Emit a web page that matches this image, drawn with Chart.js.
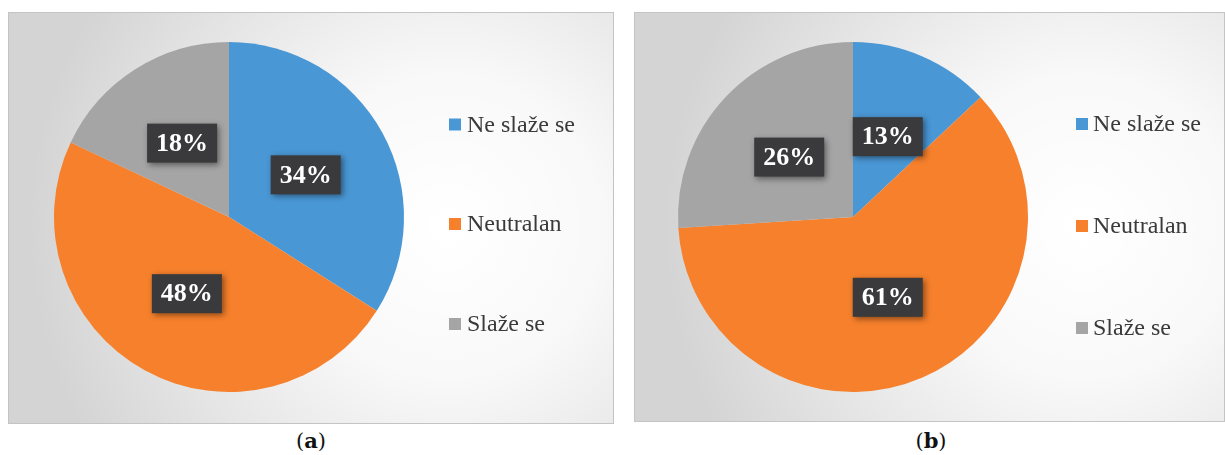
<!DOCTYPE html>
<html>
<head>
<meta charset="utf-8">
<script src="https://cdn.jsdelivr.net/npm/chart.js@4"></script>
<style>
  html, body { margin: 0; padding: 0; background: #ffffff; width: 1225px; height: 455px; overflow: hidden; }
  .wrap { position: absolute; }
  #wa { left: 8px; top: 12px; width: 606px; height: 412px; }
  #wb { left: 634px; top: 12px; width: 591px; height: 410px; }
  .cap { position: absolute; top: 428px; font-family: "DejaVu Serif", "Liberation Serif", serif; font-size: 21px; color: #111; transform: translateX(-50%); }
</style>
</head>
<body>
<div class="wrap" id="wa"><canvas id="ca"></canvas></div>
<div class="wrap" id="wb"><canvas id="cb"></canvas></div>
<div class="cap" style="left:311px">(<b>a</b>)</div>
<div class="cap" style="left:931px">(<b>b</b>)</div>
<script>
const categories = ["Ne slaže se", "Neutralan", "Slaže se"];
const valuesA = [34, 48, 18];
const valuesB = [13, 61, 26];
const colors = ["#4a97d5", "#f6802c", "#a5a5a5"];

const LABEL_FONT = "bold 26px \"Liberation Serif\", serif";
const LEGEND_FONT = "24px \"Liberation Serif\", serif";

const panelPlugin = {
  id: "panel",
  beforeDraw(chart, args, opts) {
    const ctx = chart.ctx, w = chart.width, h = chart.height;
    ctx.save();
    ctx.fillStyle = "#d4d4d4";
    ctx.fillRect(0, 0, w, h);
    const g = ctx.createRadialGradient(opts.gx, opts.gy, 10, opts.gx, opts.gy, 420);
    g.addColorStop(0, "rgba(255,255,255,1)");
    g.addColorStop(0.35, "rgba(255,255,255,0.85)");
    g.addColorStop(1, "rgba(255,255,255,0)");
    ctx.fillStyle = g;
    ctx.fillRect(0, 0, w, h);
    ctx.strokeStyle = "#c4c4c4";
    ctx.lineWidth = 1;
    ctx.strokeRect(0.5, 0.5, w - 1, h - 1);
    ctx.restore();
  },
  afterDraw(chart, args, opts) {
    const ctx = chart.ctx;
    const meta = chart.getDatasetMeta(0);
    const data = chart.data.datasets[0].data;
    ctx.save();
    meta.data.forEach((arc, i) => {
      const p = arc.tooltipPosition();
      const txt = data[i] + "%";
      ctx.font = LABEL_FONT;
      const tw = ctx.measureText(txt).width;
      const bw = tw + 18, bh = 39;
      ctx.save();
      ctx.shadowColor = "rgba(0,0,0,0.45)";
      ctx.shadowBlur = 6;
      ctx.shadowOffsetX = 2;
      ctx.shadowOffsetY = 2;
      ctx.fillStyle = "#3a3a3c";
      ctx.fillRect(p.x - bw / 2, p.y - bh / 2, bw, bh);
      ctx.restore();
      ctx.font = LABEL_FONT;
      ctx.textAlign = "center";
      ctx.textBaseline = "middle";
      ctx.fillStyle = "#ffffff";
      ctx.fillText(txt, p.x, p.y + 1);
    });
    chart.data.labels.forEach((lab, i) => {
      const y = opts.ly[i];
      ctx.fillStyle = chart.data.datasets[0].backgroundColor[i];
      ctx.fillRect(opts.sx, y - 6, 12, 12);
      ctx.font = LEGEND_FONT;
      ctx.textAlign = "left";
      ctx.textBaseline = "middle";
      ctx.fillStyle = "#3a3a3a";
      ctx.fillText(lab, opts.tx, y + 1);
    });
    ctx.restore();
  }
};

function makePie(id, values, pad, panelOpts) {
  return new Chart(document.getElementById(id), {
    type: "pie",
    data: {
      labels: categories,
      datasets: [{ data: values, backgroundColor: colors, borderWidth: 0 }]
    },
    options: {
      responsive: true,
      maintainAspectRatio: false,
      animation: false,
      layout: { padding: pad },
      plugins: {
        legend: { display: false },
        tooltip: { enabled: false },
        panel: panelOpts
      }
    },
    plugins: [panelPlugin]
  });
}

makePie("ca", valuesA, { left: 46, top: 30, right: 210, bottom: 32 },
  { gx: 440, gy: 215, sx: 441, tx: 459, ly: [112.5, 212, 312] });
makePie("cb", valuesB, { left: 44, top: 30, right: 197, bottom: 30 },
  { gx: 450, gy: 215, sx: 442, tx: 459, ly: [112, 214, 316] });
</script>
</body>
</html>
